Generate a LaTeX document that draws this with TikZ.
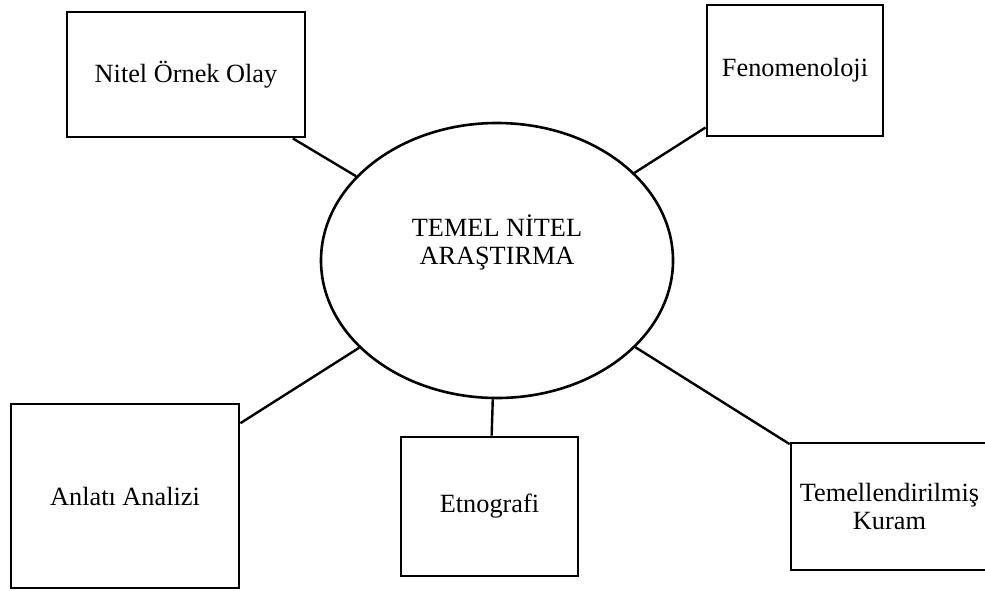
\documentclass[tikz,border=0pt]{standalone}
\usepackage{fontspec}
\setmainfont{Liberation Serif}
\usetikzlibrary{shapes.geometric}
\begin{document}
\begin{tikzpicture}[x=1pt,y=-1pt,
  every node/.style={font=\fontsize{26.3}{28}\selectfont},
  methodbox/.style={draw,line width=2.8pt,rectangle,inner sep=0pt,align=center},
  hub/.style={draw,line width=2.6pt,ellipse,inner sep=0pt,minimum width=352pt,minimum height=275pt},
  link/.style={line width=2.4pt}]
  \useasboundingbox (0,0) rectangle (985,590);
  \clip (0,0) rectangle (985,590);

  % central ellipse and its caption
  \node[hub] (c) at (497,260.5) {};
  \node[align=center] (ctext) at (497,242) {TEMEL NİTEL\\ARAŞTIRMA};

  % surrounding method boxes
  \node[methodbox,minimum width=238pt,minimum height=125pt] (b1) at (186,74.5) {Nitel Örnek Olay};
  \node[methodbox,minimum width=176pt,minimum height=131pt] (b2) at (795,70.5) {Fenomenoloji};
  \node[methodbox,minimum width=228pt,minimum height=184pt] (b3) at (125,496) {Anlatı Analizi};
  \node[methodbox,minimum width=177pt,minimum height=139pt] (b4) at (489.5,506.5) {Etnografi};
  \node[methodbox,minimum width=197pt,minimum height=127pt] (b5) at (889.5,506.5) {Temellendirilmiş\\Kuram};

  % connectors from the hub to each box
  \draw[link] (b1) -- (c);
  \draw[link] (b2) -- (c);
  \draw[link] (b3) -- (c);
  \draw[link] (b4) -- (c);
  \draw[link] (b5) -- (c);
\end{tikzpicture}
\end{document}
